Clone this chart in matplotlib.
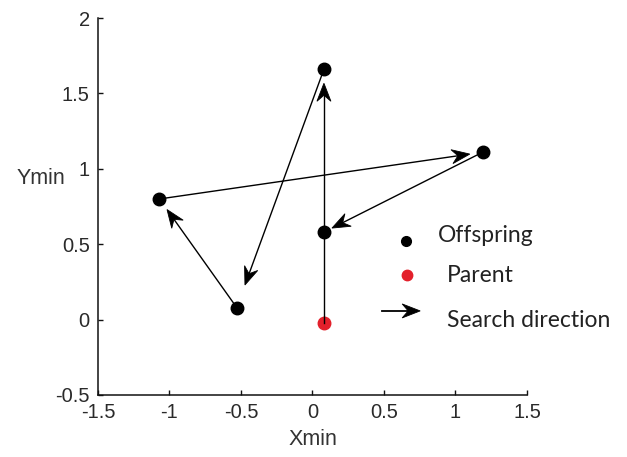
import matplotlib
matplotlib.use("Agg")
import numpy as np
import matplotlib.pyplot as plt
from matplotlib.patches import Polygon

# ---- data ----
offspring_x = [0.08, 0.08, -0.53, -1.07, 1.19]
offspring_y = [0.58, 1.66, 0.08, 0.80, 1.11]
parent_x = [0.08]
parent_y = [-0.02]
# search path (parent -> ... ), drawn as arrows
path_x = [0.08, 0.08, -0.53, -1.07, 1.19, 0.08]
path_y = [-0.02, 1.66, 0.08, 0.80, 1.11, 0.58]
x_ticks = [-1.5, -1, -0.5, 0, 0.5, 1, 1.5]
y_ticks = [-0.5, 0, 0.5, 1, 1.5, 2]
x_ticklabels = ["-1.5", "-1", "-0.5", "0", "0.5", "1", "1.5"]
y_ticklabels = ["-0.5", "0", "0.5", "1", "1.5", "2"]
legend_labels = ["Offspring", "Parent", "Search direction"]

# ---- figure ----
fig = plt.figure(figsize=(6.27, 4.57), dpi=100)
ax = fig.add_axes([0.1563, 0.1357, 0.6842, 0.8249])
ax.set_xlim(-1.5, 1.5)
ax.set_ylim(-0.5, 2)

tick_font = dict(family="Liberation Sans", size=14.5, color="#2a2a2a")
ax.set_xticks(x_ticks)
ax.set_xticklabels(x_ticklabels, fontdict=tick_font)
ax.set_yticks(y_ticks)
ax.set_yticklabels(y_ticklabels, fontdict=tick_font)
ax.tick_params(direction="in", length=3.3, width=1.0, color="#111111")
ax.tick_params(axis="x", pad=5.5)
ax.tick_params(axis="y", pad=6)
for s in ["top", "right"]:
    ax.spines[s].set_visible(False)
for s in ["left", "bottom"]:
    ax.spines[s].set_linewidth(1.1)
    ax.spines[s].set_color("#111111")

ax.set_xlabel("Xmin", fontdict=dict(family="Liberation Sans", size=15.5, color="#333333"), labelpad=5)
fig.text(41 / 627, 1 - 178 / 457, "Ymin", ha="center", va="center",
         family="Liberation Sans", fontsize=15.5, color="#333333")


def stealth_arrow(p0, p1, gap, lw=1.0, L=18.0, W=7.0, notch=6.0):
    """Arrow between two display-pixel points, notched (stealth) head."""
    p0 = np.asarray(p0, float)
    p1 = np.asarray(p1, float)
    d = p1 - p0
    u = d / np.hypot(*d)
    n = np.array([-u[1], u[0]])
    tip = p1 - gap * u
    base = tip - (L - notch) * u
    head = [tip, tip - L * u + W * n, base, tip - L * u - W * n]
    fig.add_artist(plt.Line2D([p0[0], base[0]], [p0[1], base[1]], color="black",
                              lw=lw, transform=None, zorder=2))
    fig.add_artist(Polygon(head, closed=True, facecolor="black", edgecolor="black",
                           lw=0.6, transform=None, zorder=2))


# arrows along the search path (gaps in pixels before the target dot)
gaps = [14, 24, 13, 13, 9]
pts = ax.transData.transform(np.column_stack([path_x, path_y]))
for i in range(len(pts) - 1):
    stealth_arrow(pts[i], pts[i + 1], gaps[i])

ax.plot(offspring_x, offspring_y, "o", color="black", markersize=9, zorder=3)
ax.plot(parent_x, parent_y, "o", color="#e3202b", markersize=9, zorder=3)

# manual legend (no frame)
tr = ax.transAxes
ax.plot([0.718], [0.408], "o", color="black", markersize=7, transform=tr, clip_on=False)
ax.plot([0.720], [0.318], "o", color="#e3202b", markersize=7.5, transform=tr, clip_on=False)
la = tr.transform([[0.662, 0.223], [0.751, 0.223]])
stealth_arrow(la[0], la[1], 0, lw=1.3)
leg_font = dict(family="Lato", fontsize=16.5, color="#222222", va="center", ha="left", transform=tr)
ax.text(0.793, 0.424, legend_labels[0], **leg_font)
ax.text(0.814, 0.316, legend_labels[1], **leg_font)
ax.text(0.814, 0.198, legend_labels[2], **leg_font)

fig.savefig("out.png", dpi=100)
